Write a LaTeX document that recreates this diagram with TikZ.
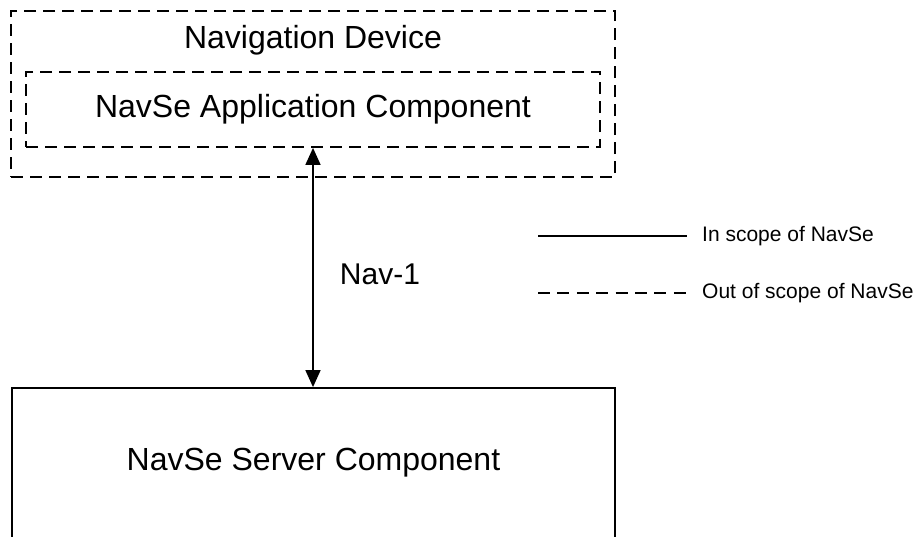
\documentclass[tikz,border=0pt]{standalone}
\usepackage{fontspec}
\setmainfont{Liberation Sans}
\usetikzlibrary{arrows.meta}

\begin{document}
\begin{tikzpicture}[x=1pt,y=-1pt,>={Triangle[length=17pt,width=15pt]},
    oos/.style={draw,line width=1.8pt,dash pattern=on 12pt off 7pt,rectangle,inner sep=0pt},
    ins/.style={draw,line width=1.8pt,rectangle,inner sep=0pt},
    bigtxt/.style={font=\fontsize{32}{38}\selectfont,inner sep=0pt},
    legtxt/.style={font=\fontsize{21}{25}\selectfont,inner xsep=15pt,inner ysep=0pt,anchor=west}]
  \useasboundingbox (0,0) rectangle (917,536);
  \node[oos,minimum width=604pt,minimum height=166pt] (device) at (313,94) {};
  \node[bigtxt] (devlbl) at (313,40) {Navigation Device};
  \node[oos,minimum width=574pt,minimum height=75pt,bigtxt] (app) at (313,109.5)
    {NavSe Application Component};
  \node[ins,minimum width=603pt,minimum height=150pt,bigtxt] (server) at (313.5,463)
    {NavSe Server Component};
  \draw[<->,line width=1.6pt] (app.south) -- (app.south |- server.north);
  \node[font=\fontsize{30}{36}\selectfont,inner sep=0pt] (nav) at (380,274) {Nav-1};
  % legend
  \coordinate (inA) at (538,236);
  \node[legtxt] (inlbl) at (687,236) {In scope of NavSe};
  \draw[line width=1.4pt] (inA) -- (inlbl.west);
  \coordinate (outA) at (538,293);
  \node[legtxt] (outlbl) at (687,293) {Out of scope of NavSe};
  \draw[line width=1.4pt,dash pattern=on 12pt off 7.4pt] (outA) -- (outlbl.west);
\end{tikzpicture}
\end{document}
